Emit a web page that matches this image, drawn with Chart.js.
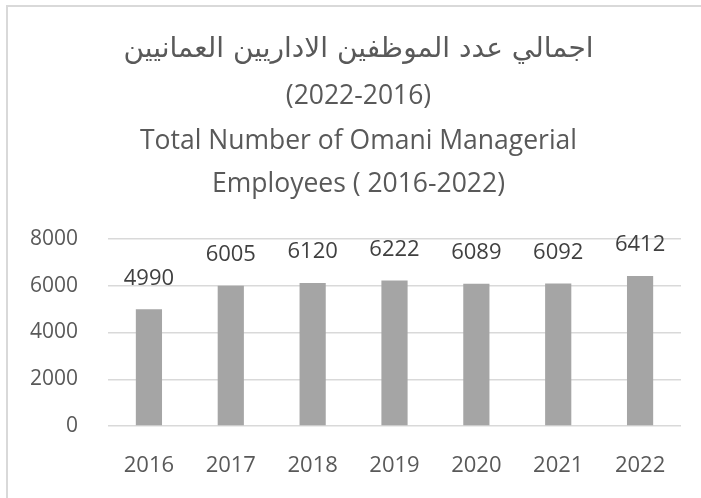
<!DOCTYPE html>
<html>
<head>
<meta charset="utf-8">
<script src="https://cdn.jsdelivr.net/npm/chart.js@4"></script>
<style>
  body { margin: 0; background: #fff; }
  #wrap { position: relative; width: 701px; height: 498px; overflow: hidden; }
  #frame { position: absolute; left: 6px; top: 5px; width: 800px; height: 600px;
    border-left: 2px solid #d9d9d9; border-top: 2px solid #d9d9d9; }
  canvas { position: absolute; left: 0; top: 0; }
</style>
</head>
<body>
<div id="wrap">
  <div id="frame"></div>
  <canvas id="myChart" width="701" height="498"></canvas>
</div>
<script>
const years = ["2016", "2017", "2018", "2019", "2020", "2021", "2022"];
const employees = [4990, 6005, 6120, 6222, 6089, 6092, 6412];
const yTicks = [0, 2000, 4000, 6000, 8000];
const titleLines = [
  "اجمالي عدد الموظفين الاداريين العمانيين",
  "(2022-2016)",
  "Total Number of Omani Managerial",
  "Employees ( 2016-2022)"
];

const fontFamily = "'Open Sans', 'Noto Sans', 'DejaVu Sans', sans-serif";

// title drawn by hand so the arabic line can get its own size
const titleBlock = {
  id: "titleBlock",
  beforeDraw(chart) {
    const ctx = chart.ctx;
    const cx = (chart.chartArea.left + chart.chartArea.right) / 2 - 36;
    const ys = [50, 96, 141, 184];
    ctx.save();
    ctx.fillStyle = "#595959";
    ctx.textAlign = "center";
    ctx.textBaseline = "middle";
    titleLines.forEach((line, i) => {
      ctx.font = (i == 0 ? "28px 'DejaVu Sans', sans-serif" : "26.5px " + fontFamily);
      ctx.fillText(line, cx, ys[i]);
    });
    ctx.restore();
  }
};

// labels above each bar
const valueLabels = {
  id: "valueLabels",
  afterDatasetsDraw(chart) {
    const ctx = chart.ctx;
    const meta = chart.getDatasetMeta(0);
    ctx.save();
    ctx.font = "22px " + fontFamily;
    ctx.fillStyle = "#404040";
    ctx.textAlign = "center";
    ctx.textBaseline = "middle";
    meta.data.forEach((bar, i) => {
      ctx.fillText(String(employees[i]), bar.x, bar.y - 31);
    });
    ctx.restore();
  }
};

let ctx = document.getElementById("myChart").getContext("2d");
let chart = new Chart(ctx, {
  type: "bar",
  data: {
    labels: years,
    datasets: [
      {
        label: "Employees",
        data: employees,
        backgroundColor: "#a5a5a5",
        borderWidth: 0,
        barPercentage: 0.5,
        categoryPercentage: 0.64,
      },
    ],
  },
  options: {
    responsive: false,
    animation: false,
    layout: { padding: { top: 239, right: 20, bottom: 0, left: 0 } },
    plugins: {
      legend: { display: false },
      tooltip: { enabled: false },
      title: { display: false },
    },
    scales: {
      x: {
        grid: { display: false, drawTicks: false },
        border: { display: false },
        ticks: { color: "#595959", font: { family: fontFamily, size: 22 }, padding: 27 },
        afterFit(scale) { scale.height = 72; },
      },
      y: {
        min: 0,
        max: 8000,
        afterBuildTicks(scale) { scale.ticks = yTicks.map(v => ({ value: v })); },
        grid: { color: "#d9d9d9", lineWidth: 1.5, drawTicks: false },
        border: { display: false },
        ticks: {
          color: "#595959",
          font: { family: fontFamily, size: 21 },
          padding: 30,
          callback: (v) => String(v),
        },
        afterFit(scale) { scale.width = 108; },
      },
    },
  },
  plugins: [titleBlock, valueLabels],
});
</script>
</body>
</html>
